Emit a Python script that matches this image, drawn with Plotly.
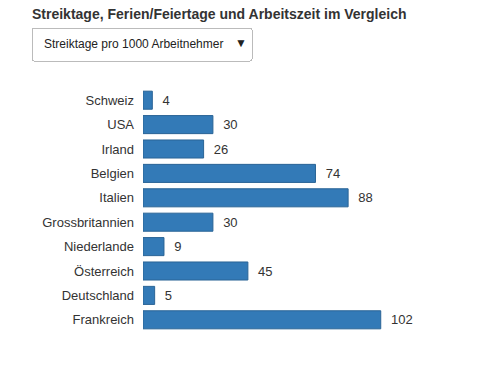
import plotly.graph_objects as go

countries = ["Schweiz", "USA", "Irland", "Belgien", "Italien", "Grossbritannien",
             "Niederlande", "Österreich", "Deutschland", "Frankreich"]
strike_days = [4, 30, 26, 74, 88, 30, 9, 45, 5, 102]
menu_options = ["Streiktage pro 1000 Arbeitnehmer", "Ferien/Feiertage", "Arbeitszeit"]

W, H = 479, 372
ML, MT = 143, 88
PW = 303
PH = 244.4
MR = W - ML - PW
MB = H - MT - PH

fig = go.Figure(go.Bar(
    y=countries, x=strike_days, orientation="h",
    marker=dict(color="#337ab7", line=dict(color="#2a6496", width=1)),
    text=strike_days, texttemplate="\u00a0\u00a0%{x}", textposition="outside",
    textfont=dict(size=13, color="#333333", family="Liberation Sans, Arial, sans-serif"),
    cliponaxis=False, width=0.74, hoverinfo="x+y",
))

fig.update_layout(
    width=W, height=H,
    margin=dict(l=ML, r=MR, t=MT, b=MB, pad=0),
    paper_bgcolor="white", plot_bgcolor="white",
    font=dict(family="Liberation Sans, Arial, sans-serif", size=13, color="#333333"),
    title=dict(text="<b>Streiktage, Ferien/Feiertage und Arbeitszeit im Vergleich</b>",
               x=32 / W, xanchor="left", xref="container",
               y=1 - 14 / H, yanchor="middle", yref="container",
               font=dict(size=14, color="#333333")),
    xaxis=dict(range=[0, 130], showticklabels=False, showgrid=False, zeroline=False,
               showline=False, ticks=""),
    yaxis=dict(categoryorder="array", categoryarray=countries, autorange="reversed",
               showgrid=False, zeroline=False, showline=False, ticks="",
               ticklabelstandoff=8, tickfont=dict(size=13, color="#333333")),
    showlegend=False,
    updatemenus=[dict(
        type="dropdown", active=0, direction="down",
        x=(31 - ML) / PW, xanchor="left",
        y=1 + (MT - 43) / PH, yanchor="middle",
        bgcolor="white", bordercolor="#bbbbbb", borderwidth=1,
        font=dict(size=12, color="#222222"),
        pad=dict(t=0, b=0, l=0, r=0),
        showactive=True,
        buttons=[dict(label=o, method="skip", args=[None]) for o in menu_options],
    )],
)

fig.write_html("out.html", config={"displayModeBar": False},
               post_script="document.body.style.margin='0';")
